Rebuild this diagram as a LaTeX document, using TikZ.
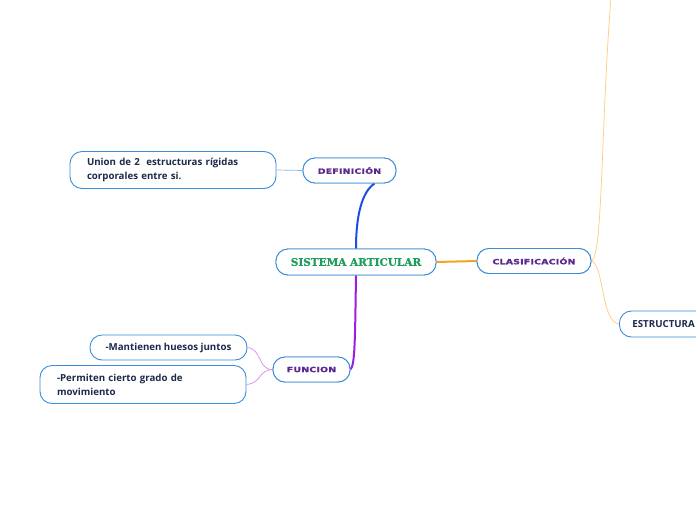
\documentclass[tikz,border=0pt]{standalone}
\usepackage{fontspec}
\usetikzlibrary{calc}
\newfontfamily\bodyf{Open Sans}
\newfontfamily\labf{DejaVu Sans Bold}[FakeBold=1.4,FakeStretch=1.3,LetterSpace=3]
\newfontfamily\titf{DejaVu Serif Bold}[FakeBold=0.6]
\definecolor{boxblue}{HTML}{3A8DDA}
\definecolor{navy}{HTML}{1C2A4A}
\definecolor{labpurple}{HTML}{5A2A90}
\definecolor{titgreen}{HTML}{1E9E5A}
\definecolor{cblue}{HTML}{1A4FE6}
\definecolor{corange}{HTML}{F5A41E}
\definecolor{cpurple}{HTML}{9A1EE6}
\definecolor{lblue}{HTML}{8AB6EA}
\definecolor{lorange}{HTML}{FFCB7A}
\definecolor{lpurple}{HTML}{D58AF2}
\begin{document}
\begin{tikzpicture}[x=1pt,y=-1pt,
  box/.style={draw=boxblue,line width=0.9pt,rounded corners=12pt,fill=white,inner sep=0pt},
  topic/.style={box,minimum width=#1,minimum height=25pt,font=\labf\fontsize{7.2}{8}\selectfont,text=labpurple},
  leaf/.style={box,font=\bodyf\bfseries\fontsize{9.7}{13.8}\selectfont,text=navy,align=left},
  mainbox/.style={box,minimum width=160pt,minimum height=26pt,font=\titf\fontsize{10.5}{12}\selectfont,text=titgreen},
  thick1/.style={line width=2pt},
  thin1/.style={line width=0.7pt}]
\useasboundingbox (0,0) rectangle (696,520);
\clip (0,0) rectangle (696,520);
\fill[white] (0,0) rectangle (696,520);
\coordinate (topend) at (611,-2);
% nodes (placed first for anchors)
\node[mainbox] (main) at (356,262) {SISTEMA ARTICULAR};
\node[topic=93pt] (def) at (349.5,170.5) {DEFINICIÓN};
\node[topic=114pt] (clas) at (534,261) {CLASIFICACIÓN};
\node[topic=77pt] (fun) at (311.5,369.5) {FUNCION};
\node[leaf,minimum width=206pt,minimum height=37pt,text width=172pt] (union) at (173,170) {Union de 2\ \ estructuras rígidas\\corporales entre si.};
\node[leaf,minimum width=157pt,minimum height=25pt] (mant) at (168.5,347.5) {-Mantienen huesos juntos};
\node[leaf,minimum width=206pt,minimum height=38pt,text width=172pt] (perm) at (143,384.5) {-Permiten cierto grado de\\movimiento};
\node[leaf,anchor=west,minimum width=110pt,minimum height=26pt,text width=84pt] (estr) at (619,324) {ESTRUCTURA};
% edges
\draw[cblue,thick1] (main.north) .. controls (356,215) and (362,192) .. ($(def.south)+(25,0)$);
\draw[corange,thick1] (main.east) -- (clas.west);
\draw[cpurple,thick1] (main.south) .. controls (355,340) and (355,365) .. (fun.east);
\draw[lblue,thin1] (def.west) -- (union.east);
\draw[lorange,thin1] (clas.east) .. controls (603,257) and (601,120) .. (topend);
\draw[lorange,thin1] (clas.east) .. controls (604,265) and (601,322) .. (estr.west);
\draw[lpurple,thin1] (fun.west) .. controls (258,370) and (262,349) .. (mant.east);
\draw[lpurple,thin1] (fun.west) .. controls (258,370) and (262,383) .. (perm.east);
% redraw nodes that edges touch on top
\node[mainbox] at (main) {SISTEMA ARTICULAR};
\node[topic=93pt] at (def) {DEFINICIÓN};
\node[topic=114pt] at (clas) {CLASIFICACIÓN};
\node[topic=77pt] at (fun) {FUNCION};
\end{tikzpicture}
\end{document}
